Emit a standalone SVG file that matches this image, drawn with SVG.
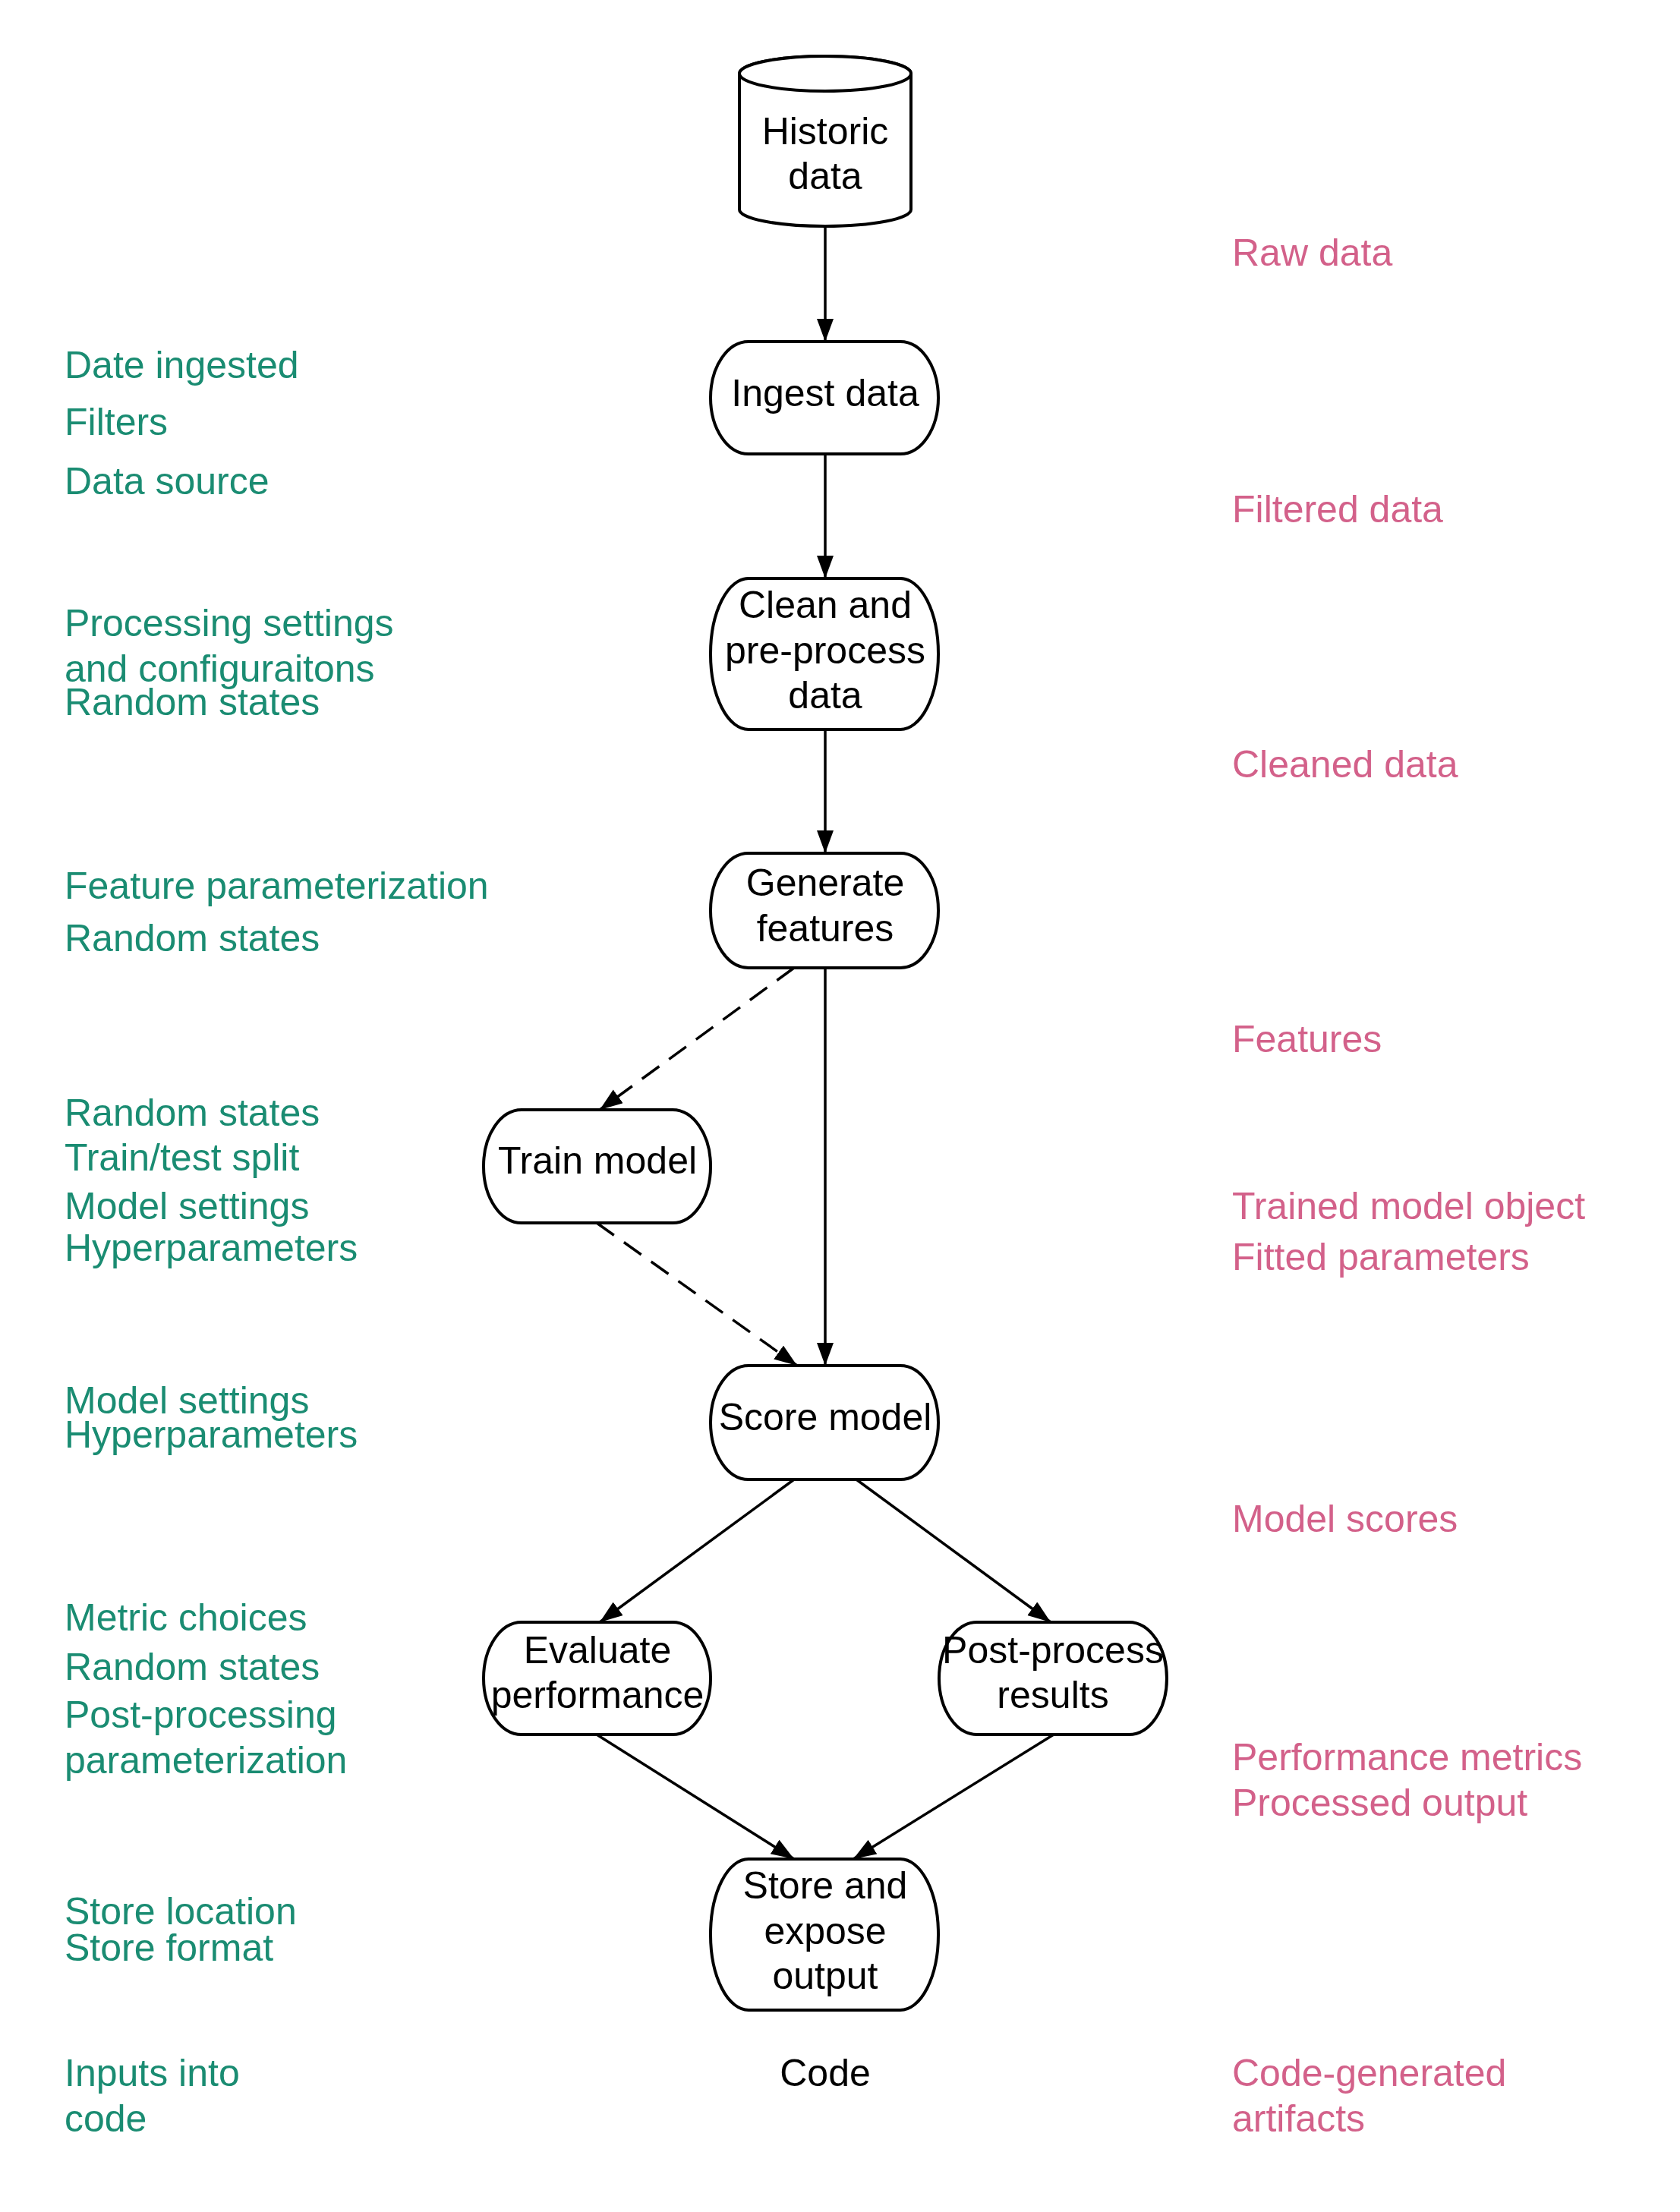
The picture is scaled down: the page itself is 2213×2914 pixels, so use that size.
<svg xmlns="http://www.w3.org/2000/svg" width="2213" height="2914" viewBox="0 0 2213 2914">
<style>
.node{fill:#ffffff;stroke:#000000;stroke-width:4}
.nt{font-family:"Liberation Sans",Arial,sans-serif;font-size:50px;fill:#000000;text-anchor:middle}
.in{font-family:"Liberation Sans",Arial,sans-serif;font-size:50px;fill:#1a8c72}
.out{font-family:"Liberation Sans",Arial,sans-serif;font-size:50px;fill:#d3618a}
.edge{fill:none;stroke:#000000;stroke-width:3.5}
.dash{stroke-dasharray:28 16}
</style>
<defs>
<marker id="arr" markerUnits="userSpaceOnUse" markerWidth="32" markerHeight="24" viewBox="0 0 32 24" refX="30" refY="11" orient="auto">
<path d="M0,0 L30,11 L0,22 z" fill="#000000"/>
</marker>
</defs>
<rect width="2213" height="2914" fill="#ffffff"/>
<g id="connectors">
<line class="edge" x1="1087" y1="298" x2="1087" y2="450" marker-end="url(#arr)"/>
<line class="edge" x1="1087" y1="598" x2="1087" y2="762" marker-end="url(#arr)"/>
<line class="edge" x1="1087" y1="961" x2="1087" y2="1124" marker-end="url(#arr)"/>
<line class="edge" x1="1087" y1="1275" x2="1087" y2="1799" marker-end="url(#arr)"/>
<line class="edge dash" x1="1046" y1="1275" x2="790" y2="1462" marker-end="url(#arr)"/>
<line class="edge dash" x1="786" y1="1611" x2="1050" y2="1799" marker-end="url(#arr)"/>
<line class="edge" x1="1046" y1="1949" x2="790" y2="2137" marker-end="url(#arr)"/>
<line class="edge" x1="1128" y1="1949" x2="1384" y2="2137" marker-end="url(#arr)"/>
<line class="edge" x1="786" y1="2285" x2="1046" y2="2449" marker-end="url(#arr)"/>
<line class="edge" x1="1388" y1="2285" x2="1124" y2="2449" marker-end="url(#arr)"/>
</g>
<g id="historic-data">
<path class="node" d="M974,97 L974,276 A113,22 0 0 0 1200,276 L1200,97 A113,23 0 0 0 974,97 Z"/>
<ellipse class="node" cx="1087" cy="97" rx="113" ry="23"/>
<text class="nt" x="1087" y="190">Historic</text>
<text class="nt" x="1087" y="249">data</text>
</g>
<g id="ingest-data">
<rect class="node" x="936" y="450" width="300" height="148" rx="50" ry="74"/>
<text class="nt" x="1087" y="535">Ingest data</text>
</g>
<g id="clean-data">
<rect class="node" x="936" y="762" width="300" height="199" rx="50" ry="99"/>
<text class="nt" x="1087" y="814">Clean and</text>
<text class="nt" x="1087" y="874">pre-process</text>
<text class="nt" x="1087" y="933">data</text>
</g>
<g id="generate-features">
<rect class="node" x="936" y="1124" width="300" height="151" rx="50" ry="75"/>
<text class="nt" x="1087" y="1180">Generate</text>
<text class="nt" x="1087" y="1240">features</text>
</g>
<g id="train-model">
<rect class="node" x="637" y="1462" width="299" height="149" rx="50" ry="74"/>
<text class="nt" x="787" y="1546">Train model</text>
</g>
<g id="score-model">
<rect class="node" x="936" y="1799" width="300" height="150" rx="50" ry="75"/>
<text class="nt" x="1087" y="1884">Score model</text>
</g>
<g id="evaluate-performance">
<rect class="node" x="637" y="2137" width="299" height="148" rx="50" ry="74"/>
<text class="nt" x="787" y="2191">Evaluate</text>
<text class="nt" x="787" y="2250">performance</text>
</g>
<g id="post-process-results">
<rect class="node" x="1237" y="2137" width="300" height="148" rx="50" ry="74"/>
<text class="nt" x="1387" y="2191">Post-process</text>
<text class="nt" x="1387" y="2250">results</text>
</g>
<g id="store-output">
<rect class="node" x="936" y="2449" width="300" height="199" rx="50" ry="99"/>
<text class="nt" x="1087" y="2501">Store and</text>
<text class="nt" x="1087" y="2561">expose</text>
<text class="nt" x="1087" y="2620">output</text>
</g>
<g id="code-label">
<text class="nt" x="1087" y="2748">Code</text>
</g>
<g id="inputs">
<text class="in" x="85" y="498">Date ingested</text>
<text class="in" x="85" y="573">Filters</text>
<text class="in" x="85" y="651">Data source</text>
<text class="in" x="85" y="838">Processing settings</text>
<text class="in" x="85" y="898">and configuraitons</text>
<text class="in" x="85" y="942">Random states</text>
<text class="in" x="85" y="1184">Feature parameterization</text>
<text class="in" x="85" y="1253">Random states</text>
<text class="in" x="85" y="1483">Random states</text>
<text class="in" x="85" y="1542">Train/test split</text>
<text class="in" x="85" y="1606">Model settings</text>
<text class="in" x="85" y="1661">Hyperparameters</text>
<text class="in" x="85" y="1862">Model settings</text>
<text class="in" x="85" y="1907">Hyperparameters</text>
<text class="in" x="85" y="2148">Metric choices</text>
<text class="in" x="85" y="2213">Random states</text>
<text class="in" x="85" y="2276">Post-processing</text>
<text class="in" x="85" y="2336">parameterization</text>
<text class="in" x="85" y="2535">Store location</text>
<text class="in" x="85" y="2583">Store format</text>
<text class="in" x="85" y="2748">Inputs into</text>
<text class="in" x="85" y="2808">code</text>
</g>
<g id="outputs">
<text class="out" x="1623" y="350">Raw data</text>
<text class="out" x="1623" y="688">Filtered data</text>
<text class="out" x="1623" y="1024">Cleaned data</text>
<text class="out" x="1623" y="1386">Features</text>
<text class="out" x="1623" y="1606">Trained model object</text>
<text class="out" x="1623" y="1673">Fitted parameters</text>
<text class="out" x="1623" y="2018">Model scores</text>
<text class="out" x="1623" y="2332">Performance metrics</text>
<text class="out" x="1623" y="2392">Processed output</text>
<text class="out" x="1623" y="2748">Code-generated</text>
<text class="out" x="1623" y="2808">artifacts</text>
</g>
</svg>
